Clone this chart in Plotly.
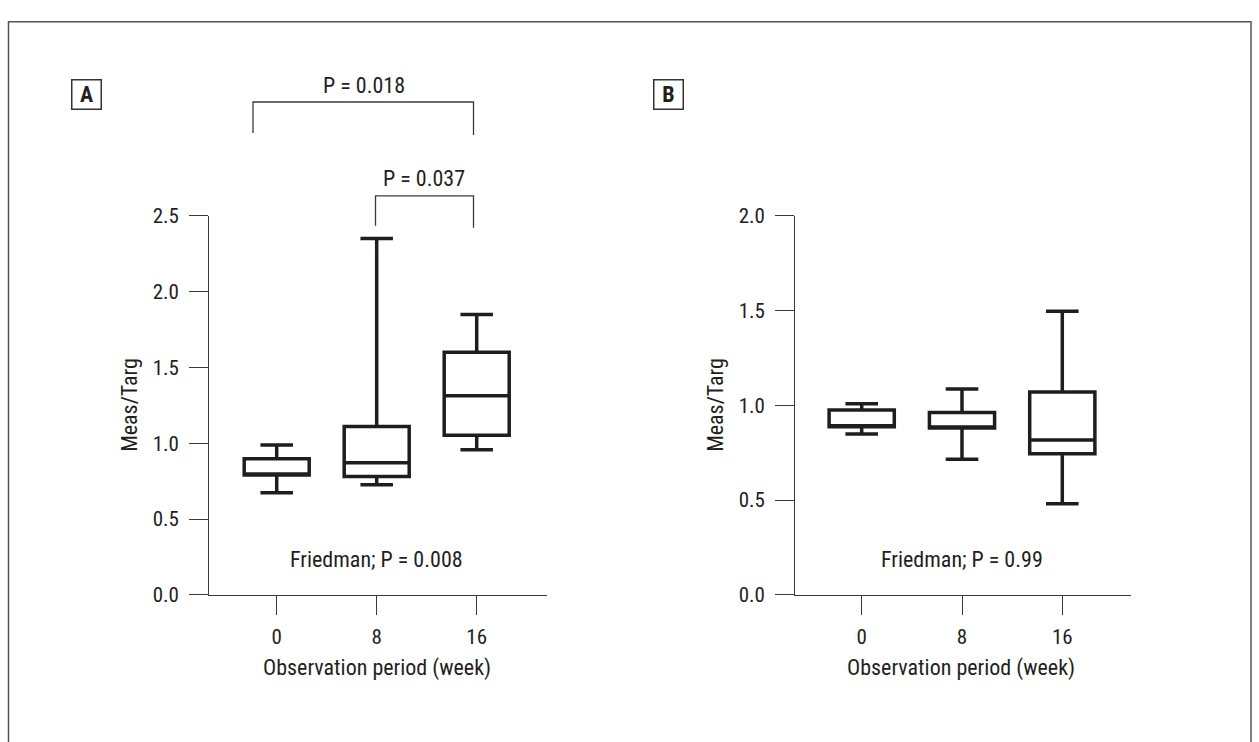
import plotly.graph_objects as go

# ---------------- data ----------------
weeks = ["0", "8", "16"]
xpos = [0, 1, 2]

# Panel A  (Meas/Targ)
a_lower = [0.674, 0.726, 0.957]
a_q1 = [0.791, 0.781, 1.053]
a_median = [0.791, 0.872, 1.313]
a_q3 = [0.898, 1.111, 1.600]
a_upper = [0.989, 2.351, 1.849]

# Panel B  (Meas/Targ)
b_lower = [0.849, 0.715, 0.480]
b_q1 = [0.887, 0.880, 0.744]
b_median = [0.887, 0.880, 0.817]
b_q3 = [0.975, 0.962, 1.071]
b_upper = [1.008, 1.086, 1.496]

a_yticks = [0.0, 0.5, 1.0, 1.5, 2.0, 2.5]
b_yticks = [0.0, 0.5, 1.0, 1.5, 2.0]

W, H = 1259, 742
FONT = "Liberation Sans Narrow, Arial Narrow, Roboto Condensed, DejaVu Sans Condensed, sans-serif"
INK = "#231f20"
AX = "#3a3a3a"


def px(x):
    return x / W


def py(y):
    return 1 - y / H


fig = go.Figure()

box_style = dict(width=0.65, whiskerwidth=0.5, boxpoints=False,
                 line=dict(color="#1e1e1e", width=3.5), fillcolor="rgba(0,0,0,0)",
                 showlegend=False, hoverinfo="skip")

fig.add_trace(go.Box(x=xpos, q1=a_q1, median=a_median, q3=a_q3,
                     lowerfence=a_lower, upperfence=a_upper,
                     xaxis="x", yaxis="y", **box_style))
fig.add_trace(go.Box(x=xpos, q1=b_q1, median=b_median, q3=b_q3,
                     lowerfence=b_lower, upperfence=b_upper,
                     xaxis="x2", yaxis="y2", **box_style))

axis_common = dict(showline=True, linecolor=AX, linewidth=1.3, ticks="outside",
                   ticklen=19, tickwidth=1.3, tickcolor=AX, showgrid=False,
                   zeroline=False, tickfont=dict(family=FONT, size=21, color=INK),
                   fixedrange=True)

fig.update_layout(
    width=W, height=H,
    margin=dict(l=0, r=0, t=0, b=0),
    paper_bgcolor="white", plot_bgcolor="white",
    font=dict(family=FONT, color=INK, size=22),
    xaxis=dict(domain=[px(209.3), px(546.7)], range=[-0.674, 2.70],
               tickvals=xpos, ticktext=weeks, anchor="y", ticklabelstandoff=4,
               **axis_common),
    yaxis=dict(domain=[py(602.3), py(210.7)], range=[0, 2.5],
               tickvals=a_yticks, tickformat=".1f", anchor="x", ticklabelstandoff=6,
               **axis_common),
    xaxis2=dict(domain=[px(795.3), px(1131)], range=[-0.662, 2.685],
                tickvals=xpos, ticktext=weeks, anchor="y2", ticklabelstandoff=4,
                **axis_common),
    yaxis2=dict(domain=[py(602.3), py(210.7)], range=[0, 2.0],
                tickvals=b_yticks, tickformat=".1f", anchor="x2", ticklabelstandoff=6,
                **axis_common),
)

# outer frame
fig.add_shape(type="rect", xref="paper", yref="paper",
              x0=px(8.5), x1=px(1251), y0=-0.05, y1=py(10),
              line=dict(color="#555555", width=1.5))

# significance brackets (panel A)
bracket = dict(color="#3a3a3a", width=1.3)
fig.add_shape(type="path", xref="paper", yref="paper", line=bracket,
              path=f"M {px(253)},{py(125)} L {px(253)},{py(93)} L {px(473.5)},{py(93)} L {px(473.5)},{py(127)}")
fig.add_shape(type="path", xref="paper", yref="paper", line=bracket,
              path=f"M {px(375.5)},{py(221)} L {px(375.5)},{py(190)} L {px(473.5)},{py(190)} L {px(473.5)},{py(223)}")

ann = []
ann.append(dict(text="P = 0.018", x=px(364), y=py(76), xref="paper", yref="paper",
                showarrow=False, xanchor="center", yanchor="middle"))
ann.append(dict(text="P = 0.037", x=px(424), y=py(172), xref="paper", yref="paper",
                showarrow=False, xanchor="center", yanchor="middle"))
ann.append(dict(text="Friedman; P = 0.008", x=px(376.7), y=py(566), xref="paper", yref="paper",
                showarrow=False, xanchor="center", yanchor="middle"))
ann.append(dict(text="Friedman; P = 0.99", x=px(962), y=py(566), xref="paper", yref="paper",
                showarrow=False, xanchor="center", yanchor="middle"))
# axis titles
for xc in (377, 961):
    ann.append(dict(text="Observation period (week)", x=px(xc), y=py(678), xref="paper",
                    yref="paper", showarrow=False, xanchor="center", yanchor="middle"))
for xc in (130, 716):
    ann.append(dict(text="Meas/Targ", x=px(xc), y=py(406), xref="paper", yref="paper",
                    showarrow=False, xanchor="center", yanchor="middle", textangle=-90))
# panel labels
for lab, xc in (("A", 86), ("B", 668.5)):
    ann.append(dict(text=f"<b>{lab}</b>", x=px(xc), y=py(85), xref="paper", yref="paper",
                    showarrow=False, xanchor="center", yanchor="middle",
                    width=28, height=28, borderpad=0, bordercolor="#333333", borderwidth=1.5,
                    font=dict(family=FONT, size=22, color=INK)))

fig.update_layout(annotations=ann)

fig.write_html("out.html", config={"displayModeBar": False},
               post_script="document.body.style.margin='0';")
